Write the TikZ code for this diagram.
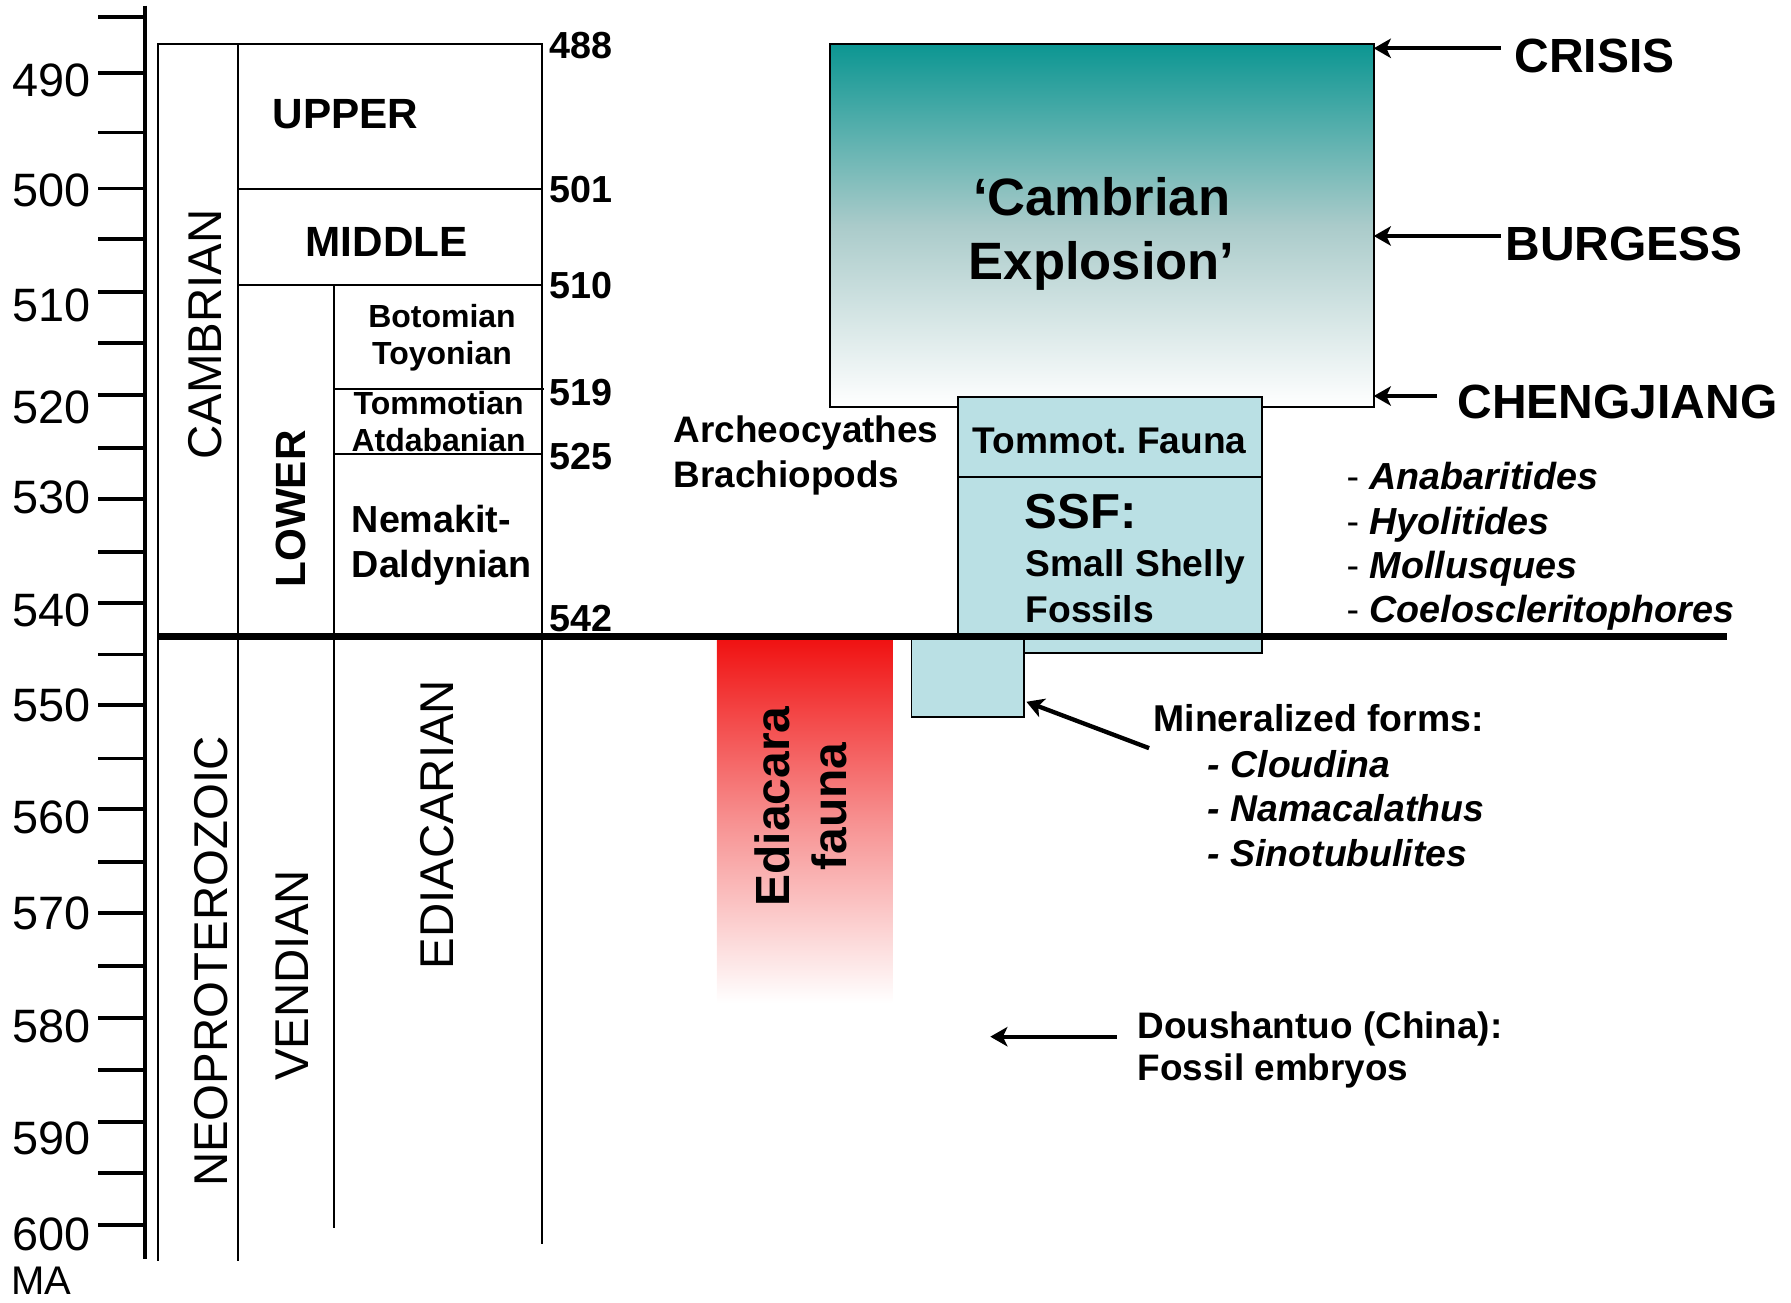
\documentclass[tikz,border=0pt]{standalone}
\usepackage{fontspec}
\setmainfont{Liberation Sans}
\usetikzlibrary{arrows.meta, positioning, calc}

\definecolor{explotop}{RGB}{12,150,146}
\definecolor{explomid}{RGB}{170,203,202}
\definecolor{shelly}{RGB}{186,224,228}
\definecolor{ediared}{RGB}{240,18,18}
\definecolor{edimid}{RGB}{247,145,145}

\begin{document}
\begin{tikzpicture}[x=1pt, y=-1pt, >={Stealth[length=15pt,width=17pt,inset=4pt]}, every node/.style={inner sep=0pt, outer sep=0pt}]

  % Define styles
  \tikzstyle{chartline} = [line width=1.5pt]
  \tikzstyle{tickline} = [line width=3.4pt]
  \tikzstyle{agelbl} = [anchor=east, font=\fontsize{41}{41}\selectfont, text height=29.4pt, text depth=0pt]
  \tikzstyle{bound} = [anchor=west, font=\bfseries\fontsize{33}{33}\selectfont, text height=23.6pt, text depth=0pt]
  \tikzstyle{eon} = [rotate=90, font=\fontsize{41.5}{41.5}\selectfont, text height=29.7pt, text depth=0pt]
  \tikzstyle{series} = [font=\bfseries\fontsize{37}{37}\selectfont, text height=26.5pt, text depth=0pt]
  \tikzstyle{stage} = [align=center, anchor=north, font=\bfseries\fontsize{28}{33}\selectfont]
  \tikzstyle{note} = [align=left, anchor=north west, font=\bfseries\fontsize{32.5}{39.5}\selectfont]
  \tikzstyle{site} = [anchor=west, font=\bfseries\fontsize{42}{42}\selectfont, text height=30pt, text depth=0pt]
  \tikzstyle{fauna} = [draw, line width=1.7pt, fill=shelly, anchor=north west]
  \tikzstyle{pointer} = [->, line width=3.8pt]

  \useasboundingbox (0,0) rectangle (1568,1140);

  % Time axis
  \draw[tickline] (127,5) -- (127,1102.5);
  \foreach \y in {15,64,116,165,209,256,300,346,392,437,483,528,573,617,664,708,755,799,846,891,937,982,1027,1072.5}
    \draw[tickline] (86,\y) -- (127,\y);
  \foreach \t/\y in {490/70,500/166,510/267,520/356,530/435,540/534,550/617,560/715,570/799,580/898,590/996,600/1080}
    \node[agelbl] (age\t) at (79,\y) {\t};
  \node[anchor=west, font=\fontsize{35}{35}\selectfont, text height=25pt, text depth=0pt] (ma) at (10,1121) {MA};

  % Stratigraphic columns
  \draw[chartline] (138.4,1103.7) -- (138.4,38.5) -- (474.8,38.5) -- (474.8,1089.4);
  \draw[chartline] (208.4,38.5) -- (208.4,1103.7);
  \draw[chartline] (292.2,249.5) -- (292.2,1075.4);
  \draw[chartline] (208.4,165.5) -- (474.8,165.5);
  \draw[chartline] (208.4,249.5) -- (474.8,249.5);
  \draw[chartline] (292.2,340.6) -- (476,340.6);
  \draw[chartline] (292.2,397.5) -- (474.8,397.5);

  \node[bound] (b488) at (481,39.4) {488};
  \node[bound] (b501) at (481,165.5) {501};
  \node[bound] (b510) at (481,249.5) {510};
  \node[bound] (b519) at (481,343) {519};
  \node[bound] (b525) at (481,399) {525};
  \node[bound] (b542) at (481,541.4) {542};

  \node[eon] (cambrian) at (179.3,293) {CAMBRIAN};
  \node[eon] (neoprot) at (184.7,842) {NEOPROTEROZOIC};
  \node[eon] (vendian) at (255,854) {VENDIAN};
  \node[eon] (ediacarian) at (382,722) {EDIACARIAN};
  \node[series] (upper) at (302.5,99) {UPPER};
  \node[series] (middle) at (338.5,211.6) {MIDDLE};
  \node[series, rotate=90] (lower) at (254,445.6) {LOWER};
  \node[stage] (botomian) at (387,266) {Botomian\\Toyonian};
  \node[stage, font=\bfseries\fontsize{28}{32}\selectfont] (tommotian) at (384,343) {Tommotian\\Atdabanian};
  \node[note, font=\bfseries\fontsize{33}{39.4}\selectfont] (nemakit) at (308,442) {Nemakit-\\Daldynian};

  % Faunas
  \node[draw, line width=1.7pt, anchor=north west, top color=explotop, bottom color=white, middle color=explomid,
        minimum width=476.4pt, minimum height=317.2pt] (cambex) at (726.3,38.8) {};
  \node[align=center, font=\bfseries\fontsize{46}{56}\selectfont, yshift=-7pt] (cambtext) at (cambex.center) {‘Cambrian\\Explosion’};
  \node[fauna, minimum width=265.9pt, minimum height=70.7pt, text height=28.5pt, text depth=0pt,
        font=\bfseries\fontsize{32.5}{32.5}\selectfont] (tommot) at (838.6,347.3) {Tommot.\ Fauna};
  \node[fauna, minimum width=265.9pt, minimum height=153.4pt] (ssf) at (tommot.south west) {};
  \node[anchor=west, font=\bfseries\fontsize{43}{43}\selectfont, text height=30.8pt, text depth=0pt] (ssftitle) at (897,447.2) {SSF:};
  \node[note, font=\bfseries\fontsize{32.6}{40}\selectfont] (shelly) at (898,481.5) {Small Shelly\\Fossils};
  \node[fauna, minimum width=98.6pt, minimum height=69.4pt] (minbox) at (798,558) {};
  \node[anchor=north west, top color=ediared, bottom color=white, middle color=edimid,
        minimum width=153.6pt, minimum height=318pt] (ediabar) at (627.7,560) {};
  \node[rotate=90, align=center, font=\bfseries\fontsize{42}{50}\selectfont] (ediatext) at (701,706) {Ediacara\\fauna};

  % Precambrian-Cambrian boundary
  \draw[line width=5.8pt] (138.4,557.5) -- (1511.6,557.5);

  \node[note, font=\bfseries\fontsize{32.3}{39.4}\selectfont] (archeo) at (590,364) {Archeocyathes\\Brachiopods};
  \node[note, font=\fontsize{33}{38.9}\selectfont] (ssflist) at (1179,404.7)
    {- \textbf{\textit{Anabaritides}}\\- \textbf{\textit{Hyolitides}}\\- \textbf{\textit{Mollusques}}\\- \textbf{\textit{Coeloscleritophores}}};
  \node[note, font=\bfseries\fontsize{32.7}{32.7}\selectfont] (minhead) at (1010,616.3) {Mineralized forms:};
  \node[note, font=\bfseries\itshape\fontsize{32.7}{38.6}\selectfont] (minlist) at (1057.5,657.3) {- Cloudina\\- Namacalathus\\- Sinotubulites};
  \node[note, font=\bfseries\fontsize{32.3}{37.1}\selectfont] (doushan) at (996,885.8) {Doushantuo (China):\\Fossil embryos};

  \node[site] (crisis) at (1326,48.7) {CRISIS};
  \node[site] (burgess) at (1318,212.7) {BURGESS};
  \node[site] (chengjiang) at (1276,351.7) {CHENGJIANG};
  \coordinate (crisisTail) at (1314,42.3);
  \coordinate (burgessTail) at (1314,206.6);
  \coordinate (chengTail) at (1258,346.7);
  \coordinate (minTail) at (1006,655);
  \coordinate (embryoTip) at (867,907.6);

  % Draw arrows
  \draw[pointer] (crisisTail) -- (crisisTail -| cambex.east);
  \draw[pointer] (burgessTail) -- (burgessTail -| cambex.east);
  \draw[pointer] (chengTail) -- (chengTail -| cambex.east);
  \draw[pointer] (minTail) -- ($(minbox.south east)+(2,-13)$);
  \draw[pointer] ($(doushan.west |- embryoTip)+(-18.4,0)$) -- (embryoTip);

\end{tikzpicture}
\end{document}
